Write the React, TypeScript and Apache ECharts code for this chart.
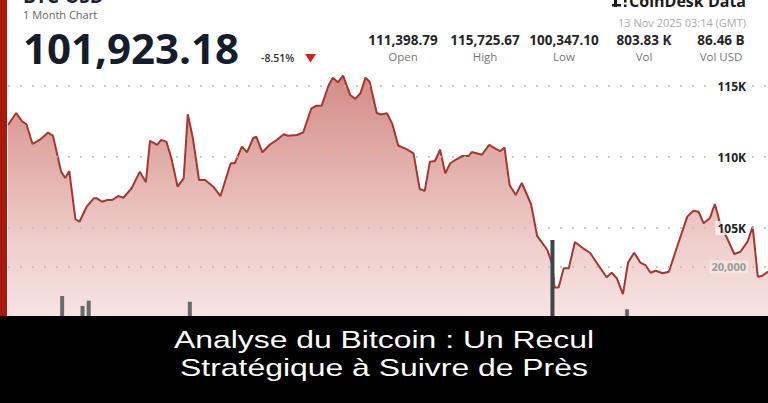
import React, { useEffect, useRef } from 'react';
import * as echarts from 'echarts';

// ---- data ----
// hours since the start of the one-month window
const hours = [
  0, 8, 14, 18, 24, 31, 39, 44, 52, 56,
  60, 66, 70, 77, 84, 87, 92, 97, 102, 108,
  113, 121, 129, 135, 139, 146, 150, 155, 160, 166,
  172, 176, 181, 187, 193, 201, 208, 218, 222, 229,
  234, 240, 243, 249, 256, 263, 270, 274, 283, 289,
  297, 302, 307, 314, 318, 323, 328, 335, 340, 345,
  350, 354, 361, 365, 371, 376, 382, 390, 397, 403,
  408, 413, 418, 423, 428, 433, 439, 445, 451, 454,
  464, 471, 478, 482, 486, 491, 497, 503, 512, 518,
  528, 533, 535, 539, 544, 549, 555, 563, 570, 577,
  586, 591, 596, 602, 607, 613, 619, 624, 629, 634,
  641, 647, 655, 665, 671, 676, 681, 687, 692, 698,
  704, 711, 717, 724, 729, 734, 738, 744,
];
const prices = [
  112250, 113100, 112490, 112320, 110920, 111200, 111710, 111500, 108970, 108520,
  109010, 105630, 105440, 106500, 107090, 107090, 106850, 106970, 106970, 107250,
  107130, 107800, 108970, 108220, 111130, 110850, 111200, 111080, 109910, 107910,
  108500, 113010, 111320, 108380, 108380, 107910, 107250, 109560, 109560, 110730,
  110330, 111320, 111430, 110330, 110850, 111200, 111600, 111500, 111550, 111740,
  113430, 113610, 113610, 115070, 115590, 115260, 115726, 114370, 114090, 114490,
  115590, 115300, 113100, 112990, 113080, 112370, 110810, 110560, 110260, 107750,
  107610, 109670, 109720, 110510, 108850, 109560, 109840, 110070, 110070, 110350,
  110160, 110850, 110560, 110420, 110670, 108030, 107320, 108170, 106690, 104440,
  103450, 102390, 100810, 100810, 102160, 102160, 104010, 103570, 103240, 102470,
  101530, 101850, 101460, 100347, 102570, 103260, 102560, 102390, 101850, 101990,
  101810, 101920, 103680, 105800, 106220, 106150, 105330, 105680, 106690, 105090,
  104280, 103170, 103330, 104040, 105090, 101570, 101620, 101923,
];
const volumeHours = [53, 73, 79, 178, 533, 606];
const volumes = [14370, 12430, 13460, 13260, 25240, 11790];
const priceTicks = [105000, 110000, 115000];
const volumeTicks = [20000];

const pairName = 'BTC-USD';
const subtitle = '1 Month Chart';
const lastPrice = '101,923.18';
const changePct = '-8.51%';
const statValues = ['111,398.79', '115,725.67', '100,347.10', '803.83 K', '86.46 B'];
const statLabels = ['Open', 'High', 'Low', 'Vol', 'Vol USD'];
const brand = 'CoinDesk Data';
const timestamp = '13 Nov 2025 03:14 (GMT)';
const bannerLines = ['Analyse du Bitcoin : Un Recul', 'Stratégique à Suivre de Près'];

// ---- layout ----
const statCenters = [403, 485, 564, 644, 721];
const FONT = "'Open Sans', 'Noto Sans', sans-serif";

export default function App() {
  const ref = useRef<HTMLDivElement>(null);

  useEffect(() => {
    const chart = echarts.init(ref.current!, null, { renderer: 'svg' });

    const dotted = { type: [2, 10] as any, color: '#b9b9b9', width: 1.5 };

    const graphics: any[] = [
      { type: 'rect', z: 100, shape: { x: 0, y: 0, width: 7, height: 316 }, style: { fill: '#a8180d' } },
      {
        type: 'text', z: 100, x: 23, y: -4.5,
        style: { text: pairName, font: `bold 19px ${FONT}`, fill: '#1b2232', textAlign: 'left', align: 'left', textVerticalAlign: 'middle', verticalAlign: 'middle' },
      },
      {
        type: 'text', z: 100, x: 23, y: 14,
        style: { text: subtitle, font: `11px ${FONT}`, fill: '#666', textAlign: 'left', align: 'left', textVerticalAlign: 'middle', verticalAlign: 'middle' },
      },
      {
        type: 'text', z: 100, x: 23, y: 47,
        style: { text: lastPrice, font: `bold 42px ${FONT}`, fill: '#151c2c', textAlign: 'left', align: 'left', textVerticalAlign: 'middle', verticalAlign: 'middle' },
      },
      {
        type: 'text', z: 100, x: 261, y: 58,
        style: { text: changePct, font: `600 10.5px ${FONT}`, fill: '#333', textAlign: 'left', align: 'left', textVerticalAlign: 'middle', verticalAlign: 'middle' },
      },
      { type: 'polygon', z: 100, shape: { points: [[305, 54], [316, 54], [310.5, 62.5]] }, style: { fill: '#d3211c' } },
      // brand
      { type: 'rect', z: 100, shape: { x: 614, y: -2, width: 3, height: 9 }, style: { fill: '#1b1b1b' } },
      { type: 'rect', z: 100, shape: { x: 612, y: 4, width: 9, height: 2.5 }, style: { fill: '#1b1b1b' } },
      { type: 'rect', z: 100, shape: { x: 624, y: 0, width: 2.5, height: 2.5 }, style: { fill: '#1b1b1b' } },
      { type: 'rect', z: 100, shape: { x: 624, y: 4.5, width: 2.5, height: 2.5 }, style: { fill: '#1b1b1b' } },
      {
        type: 'text', z: 100, x: 746, y: 1.3,
        style: { text: brand, font: `bold 16px ${FONT}`, fill: '#1b1b1b', textAlign: 'right', align: 'right', textVerticalAlign: 'middle', verticalAlign: 'middle' },
      },
      {
        type: 'text', z: 100, x: 746, y: 22,
        style: { text: timestamp, font: `11px ${FONT}`, fill: '#aaa', textAlign: 'right', align: 'right', textVerticalAlign: 'middle', verticalAlign: 'middle' },
      },
      // banner
      { type: 'rect', z: 100, shape: { x: 0, y: 316, width: 768, height: 87 }, style: { fill: '#000' } },
    ];

    statValues.forEach((v, i) => {
      graphics.push({
        type: 'text', z: 100, x: statCenters[i], y: 40,
        style: { text: v, font: `bold 13.5px ${FONT}`, fill: '#262626', textAlign: 'center', align: 'center', textVerticalAlign: 'middle', verticalAlign: 'middle' },
      });
      graphics.push({
        type: 'text', z: 100, x: statCenters[i], y: 56.5,
        style: { text: statLabels[i], font: `11.5px ${FONT}`, fill: '#777', textAlign: 'center', align: 'center', textVerticalAlign: 'middle', verticalAlign: 'middle' },
      });
    });

    bannerLines.forEach((t, i) => {
      graphics.push({
        type: 'text', z: 101, x: 384, y: i === 0 ? 340 : 367.5, scaleX: 1.33,
        style: { text: t, font: "24px 'Liberation Sans', Arial, sans-serif", fill: '#fff', textAlign: 'center', align: 'center', textVerticalAlign: 'middle', verticalAlign: 'middle' },
      });
    });

    chart.setOption({
      animation: false,
      backgroundColor: '#ffffff',
      grid: { left: 8, right: 0, top: 15, bottom: 33 },
      xAxis: { type: 'value', min: 0, max: 744, show: false },
      yAxis: [
        {
          type: 'value', min: 95000, max: 120000, interval: 5000, position: 'right', offset: 0, z: 10,
          axisLine: { show: false }, axisTick: { show: false }, splitLine: { show: false },
          axisLabel: {
            inside: true, margin: 20, customValues: priceTicks,
            formatter: (v: number) => (priceTicks.includes(v) ? `${v / 1000}K` : ''),
            color: '#222', fontWeight: 'bold', fontSize: 12, fontFamily: FONT,
            backgroundColor: 'rgba(255,255,255,0.7)', padding: [1, 2],
          },
        },
        {
          type: 'value', min: 0, max: 68930, interval: 20000, position: 'right', offset: 0, z: 10,
          axisLine: { show: false }, axisTick: { show: false }, splitLine: { show: false },
          axisLabel: {
            inside: true, margin: 20, customValues: volumeTicks,
            formatter: (v: number) => (volumeTicks.includes(v) ? v.toLocaleString('en-US') : ''),
            color: '#9a9a9a', fontWeight: 'bold', fontSize: 11, fontFamily: FONT,
            backgroundColor: 'rgba(255,255,255,0.35)', padding: [1, 2],
          },
        },
      ],
      series: [
        {
          type: 'line',
          data: hours.map((h, i) => [h, prices[i]]),
          symbol: 'none',
          showSymbol: false,
          z: 2,
          lineStyle: { color: '#a8362f', width: 2 },
          areaStyle: {
            color: new echarts.graphic.LinearGradient(0, 0, 0, 1, [
              { offset: 0, color: '#c05a52' },
              { offset: 0.25, color: '#d3857e' },
              { offset: 0.6, color: '#e9bfbb' },
              { offset: 0.8, color: '#f2d5d2' },
              { offset: 1, color: '#f7e4e2' },
            ]),
          },
          markLine: {
            silent: true, symbol: 'none', label: { show: false }, lineStyle: dotted,
            data: priceTicks.map((v) => ({ yAxis: v })),
          },
        },
        {
          type: 'bar',
          xAxisIndex: 0,
          yAxisIndex: 1,
          barWidth: 4,
          z: 3,
          data: volumeHours.map((h, i) => ({
            value: [h, volumes[i]],
            itemStyle: { color: volumes[i] > 20000 ? '#3c4848' : '#6a6a6a' },
          })),
          markLine: {
            silent: true, symbol: 'none', label: { show: false }, lineStyle: dotted,
            data: volumeTicks.map((v) => ({ yAxis: v })),
          },
        },
      ],
      graphic: { elements: graphics },
    });

    return () => chart.dispose();
  }, []);

  return (
    <div
      ref={ref}
      style={{ position: 'fixed', left: 0, top: 0, width: 768, height: 403, background: '#fff' }}
    />
  );
}
